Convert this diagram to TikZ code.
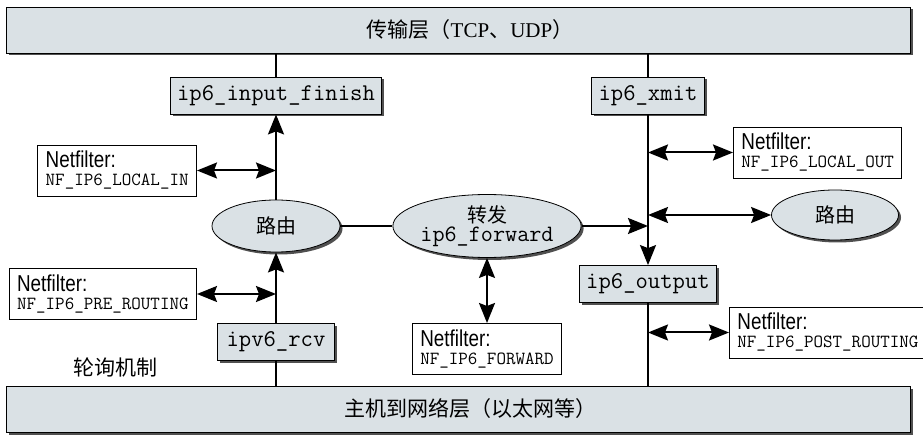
\documentclass[tikz,border=0pt]{standalone}
\usepackage{fontspec}
\setmainfont{Liberation Serif}
\newfontfamily\cjk{Noto Sans CJK SC}
\newcommand{\codefont}{\ttfamily}
\newfontfamily\nffont[FakeStretch=0.82]{Liberation Sans}
\usepackage{tikz}
\usetikzlibrary{shapes.geometric, arrows.meta, positioning, shadows}
\definecolor{layerfill}{RGB}{218,225,229}
\definecolor{shadowgray}{RGB}{80,80,80}
\newcommand{\hookname}[1]{{\codefont\fontsize{18.5}{19}\selectfont #1}}
\tikzstyle{darkshadow} = [drop shadow={shadow xshift=2.5pt, shadow yshift=-2.5pt, fill=shadowgray, opacity=1}]
\tikzstyle{layer} = [rectangle, minimum width=904pt, minimum height=46pt, draw=black, line width=0.8pt, fill=layerfill, darkshadow, font=\fontsize{21}{24}\selectfont]
\tikzstyle{func} = [rectangle, minimum height=37pt, inner xsep=7pt, draw=black, line width=0.8pt, fill=layerfill, darkshadow, font=\codefont\fontsize{24}{26}\selectfont]
\tikzstyle{route} = [ellipse, inner sep=0pt, draw=black, line width=0.8pt, fill=layerfill, darkshadow, align=center, font=\cjk\fontsize{20}{24}\selectfont]
\tikzstyle{hook} = [rectangle, draw=black, line width=0.8pt, fill=white, align=left, minimum height=51pt, inner xsep=8pt, inner ysep=2pt, font=\nffont\fontsize{23}{21}\selectfont]
\tikzstyle{link} = [line width=2pt]
\tikzstyle{arrow} = [line width=2pt, -{Stealth[length=20pt, width=16pt, inset=3pt]}]
\tikzstyle{both} = [line width=2pt, {Stealth[length=20pt, width=16pt, inset=3pt]}-{Stealth[length=20pt, width=16pt, inset=3pt]}]

\begin{document}
\begin{tikzpicture}[x=1pt, y=1pt]
    \useasboundingbox (0,0) rectangle (923,-435);
    % layers
    \node (tl) [layer] at (458,-30) {\hspace*{24pt}{\cjk 传输层（}TCP{\cjk 、}UDP{\cjk ）}};
    \node (ll) [layer, font=\cjk\fontsize{21}{24}\selectfont] at (458,-409) {\hspace*{24pt}主机到网络层（以太网等）};
    % receive path
    \node (fin) [func] at (276,-95.5) {ip6\_input\_finish};
    \node (rt1) [route, minimum width=128pt, minimum height=52pt] at (276,-226) {路由};
    \node (rcv) [func, inner xsep=9pt] at (276,-342) {ipv6\_rcv};
    \node (poll) [font=\cjk\fontsize{21}{24}\selectfont] at (115,-367) {轮询机制};
    \node (nfin) [hook, anchor=east] at (197,-170.5) {Netfilter:\\[-3pt]\hookname{NF\_IP6\_LOCAL\_IN}};
    \node (nfpre) [hook, anchor=east] at (197,-294) {Netfilter:\\[-3pt]\hookname{NF\_IP6\_PRE\_ROUTING}};
    % forward
    \node (fwd) [route, minimum width=169pt, minimum height=63pt] at (487,-226) {转发\\[-5pt]{\codefont\fontsize{23.5}{26}\selectfont ip6\_forward}};
    \node (nffwd) [hook, anchor=north] at (487,-323) {Netfilter:\\[-3pt]\hookname{NF\_IP6\_FORWARD}};
    % send path
    \node (xmit) [func] at (648,-95.5) {ip6\_xmit};
    \node (out) [func] at (648,-284) {ip6\_output};
    \node (rt2) [route, minimum width=127pt, minimum height=50pt] at (835,-215) {路由};
    \node (nfout) [hook, anchor=west] at (733,-152.5) {Netfilter:\\[-3pt]\hookname{NF\_IP6\_LOCAL\_OUT}};
    \node (nfpost) [hook, anchor=west] at (729,-332.5) {Netfilter:\\[-3pt]\hookname{NF\_IP6\_POST\_ROUTING}};

    \draw[link] (fin.north) -- (fin.north |- tl.south);
    \draw[arrow] (rt1.north) -- (fin.south);
    \draw[arrow] (rcv.north) -- (rt1.south);
    \draw[link] (rcv.south) -- (rcv.south |- ll.north);
    \draw[both] (nfin.east) -- (nfin.east -| fin.south);
    \draw[both] (nfpre.east) -- (nfpre.east -| rcv.north);
    \draw[link] (rt1.east) -- (fwd.west);
    \draw[both] (fwd.south) -- (nffwd.north);
    \draw[link] (xmit.north) -- (xmit.north |- tl.south);
    \draw[arrow] (xmit.south) -- (out.north);
    \draw[arrow] (fwd.east) -- (fwd.east -| out.north);
    \draw[both] (nfout.west) -- (nfout.west -| xmit.south);
    \draw[both] (rt2.west) -- (rt2.west -| xmit.south);
    \draw[both] (nfpost.west) -- (nfpost.west -| out.south);
    \draw[link] (out.south) -- (out.south |- ll.north);
\end{tikzpicture}
\end{document}
